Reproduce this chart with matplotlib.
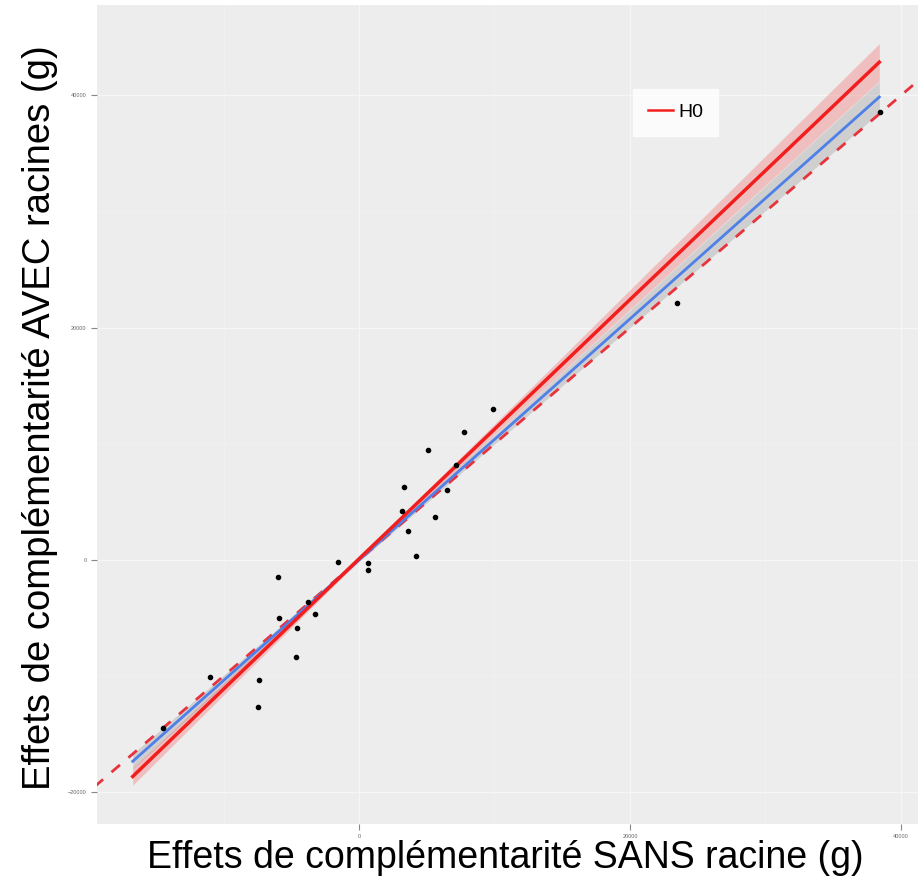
import numpy as np
import matplotlib.pyplot as plt

# points (g)
sans = [9889, 7749, 5092, 7159, 3321, 6494, 3173, 5609, 3616, 4207,
        -1550, 664, 664, -5978, -3764, -5904, -3247, -4576, -4649,
        -10996, -7380, -7454, -14465, 23469, 38450]
avec = [13000, 11020, 9471, 8179, 6285, 6027, 4219, 3702, 2497, 344,
        -172, -258, -861, -1464, -3616, -4994, -4649, -5855, -8351,
        -10073, -10331, -12656, -14464, 22127, 38570]

# fitted lines and their bands, read at a few x
fit_x = [-16700, 0, 10000, 20000, 38400]
h0_y = [-18640, 100, 11260, 22420, 42860]
h0_half = [750, 150, 450, 850, 1600]
lm_y = [-17330, 0, 10380, 20760, 39860]
lm_half = [650, 150, 400, 750, 1350]

ticks_x = [0, 20000, 40000]
ticks_y = [-20000, 0, 20000, 40000]

plt.rcParams['font.family'] = ['Liberation Sans', 'DejaVu Sans']

fig = plt.figure(figsize=(9.22, 8.86), dpi=100)
ax = fig.add_axes([97/922, 62/886, 821/922, 819/886])
ax.set_facecolor('#EDEDED')
for s in ax.spines.values():
    s.set_visible(False)

ax.set_xlim(-19336, 41255)
ax.set_ylim(-22730, 47783)
ax.set_xticks(ticks_x)
ax.set_yticks(ticks_y)
ax.set_xticks([-10000, 10000, 30000], minor=True)
ax.set_yticks([-10000, 10000, 30000], minor=True)
ax.grid(True, which='major', color='#F6F6F6', lw=1.0)
ax.grid(True, which='minor', color='#F2F2F2', lw=0.5)
ax.set_axisbelow(True)
ax.tick_params(which='major', length=4, color='#888888', labelsize=4, labelcolor='#666666')
ax.tick_params(which='minor', length=0)

fx = np.array(fit_x)
ax.fill_between(fx, np.array(lm_y) - lm_half, np.array(lm_y) + lm_half,
                color='#999999', alpha=0.35, lw=0, zorder=2)
ax.fill_between(fx, np.array(h0_y) - h0_half, np.array(h0_y) + h0_half,
                color='#F46A6A', alpha=0.35, lw=0, zorder=2)

ax.plot([-22000, 45000], [-22000, 45000], '--', color='#E8323C', lw=2, dashes=(4, 4), zorder=3)
ax.plot(fit_x, lm_y, color='#4F7FE8', lw=2, zorder=4)
ax.plot(fit_x, h0_y, color='#F21E1E', lw=2.5, zorder=5, label='H0')

ax.scatter(sans, avec, s=9, color='black', zorder=6)

leg = ax.legend(loc='upper left', bbox_to_anchor=(536/821, 1-84/819), fontsize=14,
                handlelength=1.3, handletextpad=0.3, frameon=True, fancybox=False,
                borderpad=0.75, borderaxespad=0)
leg.get_frame().set_edgecolor('white')
leg.get_frame().set_facecolor('white')
leg.get_lines()[0].set_linewidth(1.8)

fig.text(40/922, 1-418/886, 'Effets de complémentarité AVEC racines (g)', rotation=90,
         ha='center', va='center', fontsize=27.5)
fig.text(505/922, 1-858/886, 'Effets de complémentarité SANS racine (g)',
         ha='center', va='center', fontsize=27)

fig.savefig('out.png', dpi=100)
